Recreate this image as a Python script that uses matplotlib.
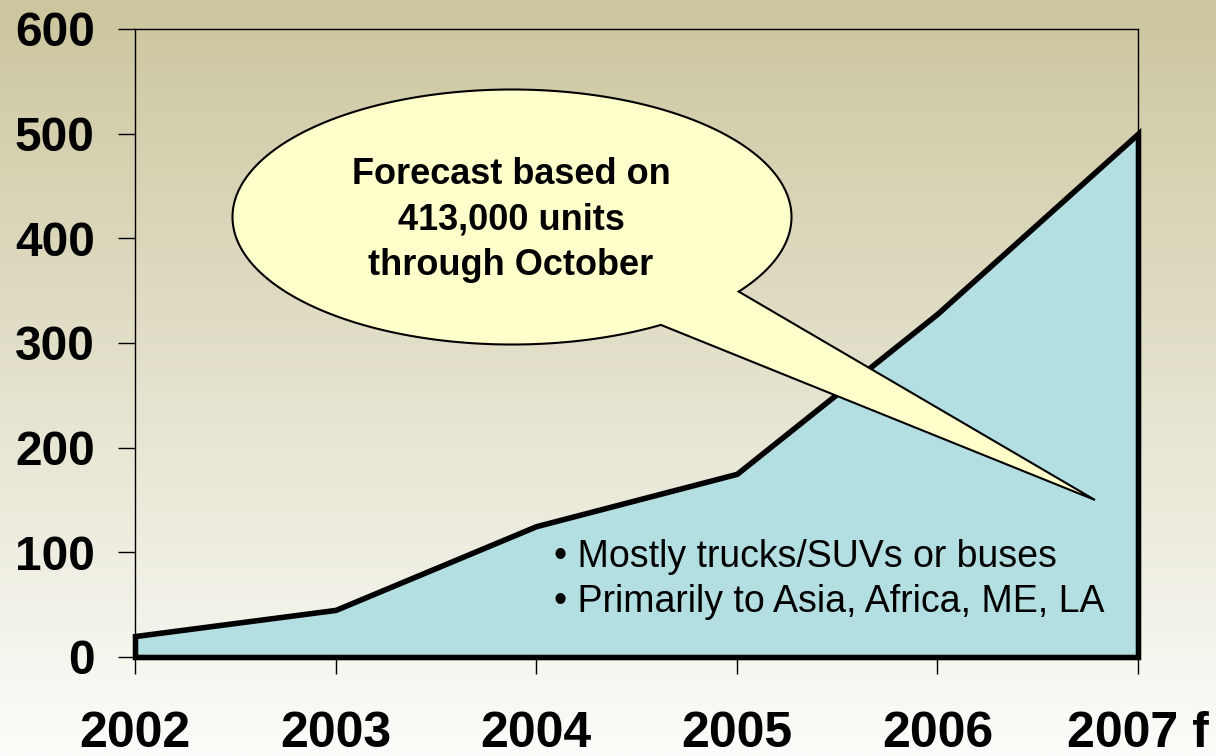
import numpy as np
import matplotlib
matplotlib.use("Agg")
import matplotlib.pyplot as plt
from matplotlib.patches import Polygon

plt.rcParams['font.family'] = ['Liberation Sans', 'DejaVu Sans']

# data (thousand units)
years = ['2002', '2003', '2004', '2005', '2006', '2007 f']
units = [20, 45, 125, 175, 328, 500]
y_ticks = [0, 100, 200, 300, 400, 500, 600]
callout_text = 'Forecast based on\n413,000 units\nthrough October'
notes = ['\u2022 Mostly trucks/SUVs or buses', '\u2022 Primarily to Asia, Africa, ME, LA']

W, H = 1216, 756
fig = plt.figure(figsize=(W / 100, H / 100), dpi=100)

def fx(px):
    return px / W

def fy(py):
    return 1 - py / H

# background gradient, khaki at the top fading to white
bg = fig.add_axes([0, 0, 1, 1], zorder=-10)
grad = np.linspace(0, 1, 256)[:, None, None]
top = np.array([204, 198, 158]) / 255
bot = np.array([252, 252, 250]) / 255
bg.imshow(top + (bot - top) * grad, aspect='auto', extent=[0, 1, 0, 1])
bg.axis('off')

ax = fig.add_axes([fx(135), fy(657), (1138 - 135) / W, (657 - 29) / H])
ax.set_facecolor('none')

x = np.arange(len(years))
ax.fill_between(x, units, 0, facecolor='#b3dfe3', edgecolor='black',
                linewidth=4, joinstyle='miter', clip_on=False, zorder=2)

ax.set_xlim(0, len(years) - 1)
ax.set_ylim(0, 600)
ax.set_xticks(x, years)
ax.set_yticks(y_ticks)
ax.tick_params(axis='both', direction='out', length=12, width=1)
ax.tick_params(axis='x', labelsize=36, pad=27)
ax.tick_params(axis='y', labelsize=34.5, pad=17)
for lab in ax.get_xticklabels() + ax.get_yticklabels():
    lab.set_fontweight('bold')
for sp in ax.spines.values():
    sp.set_linewidth(1)
    sp.set_color('black')

# speech bubble: ellipse with a pointed tail
cx, cy, a, b = 512, 217, 279.5, 127.5
p_low = (661, 325)
p_up = (740, 292)
tip = (1095, 500)
t_low = np.arctan2((p_low[1] - cy) / b, (p_low[0] - cx) / a)
t_up = np.arctan2((p_up[1] - cy) / b, (p_up[0] - cx) / a)
ts = np.linspace(t_low, t_up + 2 * np.pi, 300)
pts = [(fx(cx + a * np.cos(t)), fy(cy + b * np.sin(t))) for t in ts]
pts.append((fx(tip[0]), fy(tip[1])))
bubble = Polygon(pts, closed=True, transform=fig.transFigure,
                 facecolor='#ffffcc', edgecolor='black', linewidth=1.5, zorder=5)
fig.add_artist(bubble)

fig.text(fx(511), fy(220), callout_text, ha='center', va='center',
         fontsize=26, fontweight='bold', linespacing=1.4, zorder=6)

fig.text(fx(554), fy(567), notes[0], ha='left', va='baseline', fontsize=27, zorder=6)
fig.text(fx(554), fy(612), notes[1], ha='left', va='baseline', fontsize=27, zorder=6)

fig.savefig('out.png', dpi=100)
